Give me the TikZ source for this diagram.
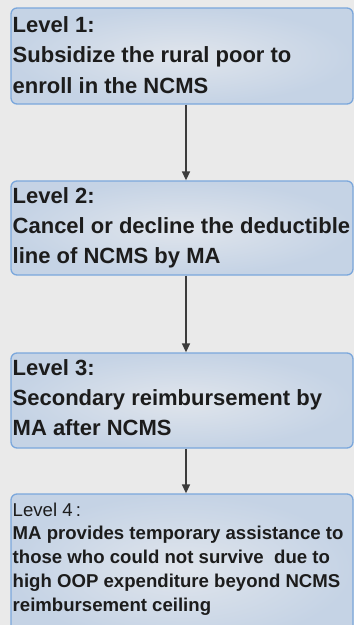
\documentclass[tikz,border=0pt]{standalone}
\usepackage{fontspec}
\setmainfont{Liberation Sans}
\usetikzlibrary{arrows.meta}
\definecolor{bgc}{HTML}{EAEAEA}
\definecolor{boxedge}{HTML}{7BA7DC}
\definecolor{boxin}{HTML}{E0E5EC}
\definecolor{boxout}{HTML}{C5D3E5}
\definecolor{txt}{HTML}{1C1C1C}
\definecolor{arr}{HTML}{3C3C3C}
\tikzset{
  levelbox/.style={draw=boxedge, line width=1.3pt, rounded corners=6pt,
    shading=radial, inner color=boxin, outer color=boxout,
    minimum width=342pt, inner sep=0pt},
  leveltext/.style={anchor=base west, inner sep=0pt, text=txt},
  flowarrow/.style={draw=arr, line width=1.5pt, -{Triangle[length=9pt,width=8pt]}}
}
\begin{document}
\begin{tikzpicture}[x=1pt,y=-1pt]
\useasboundingbox[fill=bgc] (0,0) rectangle (354,625);
\begin{scope}
\clip (0,0) rectangle (354,625);
\node[levelbox, minimum height=96pt] (b1) at (182,56) {};
\node[levelbox, minimum height=94pt] (b2) at (182,228) {};
\node[levelbox, minimum height=95pt] (b3) at (182,400.5) {};
\node[levelbox, minimum height=150pt] (b4) at (182,569) {};
\end{scope}
\node[leveltext] (t1) at (12.5,32) {\parbox[t]{340pt}{\fontsize{22pt}{30.5pt}\selectfont\bfseries Level 1:\\Subsidize the rural poor to\\enroll in the NCMS}};
\node[leveltext] (t2) at (12.5,203) {\parbox[t]{340pt}{\fontsize{22pt}{30pt}\selectfont\bfseries Level 2:\\Cancel or decline the deductible\\line of NCMS by MA}};
\node[leveltext] (t3) at (12.5,375) {\parbox[t]{340pt}{\fontsize{22pt}{30pt}\selectfont\bfseries Level 3:\\Secondary reimbursement by\\MA after NCMS}};
\node[leveltext] (t4) at (12.5,516) {\parbox[t]{340pt}{\fontsize{18.6pt}{24.7pt}\selectfont Level 4\,:\\[-0.8pt]\bfseries MA provides temporary assistance to\\[-1pt]those who could not survive\ \ due to\\[-1pt]high OOP expenditure beyond NCMS\\[-1pt]reimbursement ceiling}};
\coordinate (ax) at (186,0);
\draw[flowarrow] (b1.south -| ax) -- (b2.north -| ax);
\draw[flowarrow] (b2.south -| ax) -- (b3.north -| ax);
\draw[flowarrow] (b3.south -| ax) -- (b4.north -| ax);
\end{tikzpicture}
\end{document}
